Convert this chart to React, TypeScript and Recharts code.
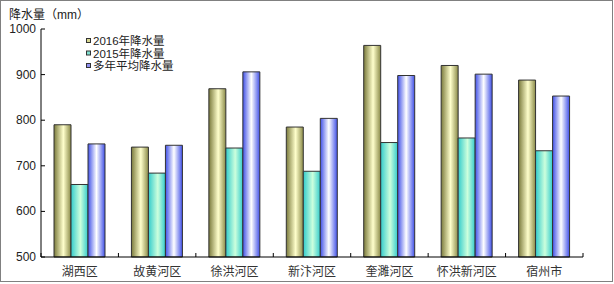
import { Bar, BarChart, XAxis, YAxis } from "recharts";

const regions = ["湖西区", "故黄河区", "徐洪河区", "新汴河区", "奎濉河区", "怀洪新河区", "宿州市"];
const rain2016 = [790, 741, 869, 785, 964, 920, 888];
const rain2015 = [659, 684, 739, 688, 751, 761, 733];
const rainAvg = [748, 745, 906, 804, 898, 901, 853];
const yTicks = [500, 600, 700, 800, 900, 1000];

const seriesNames = ["2016年降水量", "2015年降水量", "多年平均降水量"];
const legendColors = ["#d8d890", "#80e0d0", "#9090f0"];

const data = regions.map((name, i) => ({
  name,
  y2016: rain2016[i],
  y2015: rain2015[i],
  avg: rainAvg[i],
}));

const cjk = '"Liberation Sans", "Noto Sans CJK SC", sans-serif';
const band = 542 / regions.length;

function XTick(props: any) {
  const { x, y, payload, index } = props;
  const left = x - band / 2;
  return (
    <g>
      <line x1={left} x2={left} y1={y - 4} y2={y} stroke="#000" strokeWidth={1} />
      {index === regions.length - 1 && (
        <line x1={x + band / 2} x2={x + band / 2} y1={y - 4} y2={y} stroke="#000" strokeWidth={1} />
      )}
      <text x={x} y={y + 19} textAnchor="middle" fontSize={12} fill="#333" fontFamily={cjk}>
        {payload.value}
      </text>
    </g>
  );
}

function YTick(props: any) {
  const { x, y, payload } = props;
  return (
    <g>
      <line x1={x} x2={x + 4} y1={y} y2={y} stroke="#000" strokeWidth={1} />
      <text x={x - 5} y={y + 4} textAnchor="end" fontSize={12} fill="#222" fontFamily={cjk}>
        {payload.value}
      </text>
    </g>
  );
}

export default function App() {
  return (
    <div style={{ position: "absolute", left: 0, top: 0, width: 614, height: 284, background: "#fff" }}>
      <div
        style={{
          position: "absolute",
          left: 0,
          top: 0,
          width: 611,
          height: 280,
          border: "1px solid #808080",
        }}
      />
      <svg width={110} height={26} style={{ position: "absolute", left: 0, top: 0 }}>
        <text x={9} y={18.5} fontSize={12} fill="#222" fontFamily={cjk}>
          降水量（mm）
        </text>
      </svg>
      <BarChart
        width={614}
        height={284}
        data={data}
        margin={{ top: 29, right: 31, bottom: 0, left: 0 }}
        barGap={0}
        barSize={17}
      >
        <defs>
          <linearGradient id="gOlive" x1="0" y1="0" x2="1" y2="0">
            <stop offset="0%" stopColor="#7a7a3c" />
            <stop offset="55%" stopColor="#ffffcc" />
            <stop offset="100%" stopColor="#8a8a48" />
          </linearGradient>
          <linearGradient id="gCyan" x1="0" y1="0" x2="1" y2="0">
            <stop offset="0%" stopColor="#33cccc" />
            <stop offset="55%" stopColor="#ccffdd" />
            <stop offset="100%" stopColor="#33cccc" />
          </linearGradient>
          <linearGradient id="gBlue" x1="0" y1="0" x2="1" y2="0">
            <stop offset="0%" stopColor="#4050e8" />
            <stop offset="50%" stopColor="#ffffff" />
            <stop offset="100%" stopColor="#4050e8" />
          </linearGradient>
        </defs>
        <XAxis
          dataKey="name"
          height={27}
          tickSize={0}
          tickMargin={0}
          tickLine={false}
          stroke="#000"
          tick={<XTick />}
          interval={0}
        />
        <YAxis
          width={41}
          domain={[500, 1000]}
          ticks={yTicks}
          tickSize={0}
          tickMargin={0}
          tickLine={false}
          stroke="#000"
          tick={<YTick />}
          interval={0}
        />
        <Bar dataKey="y2016" name={seriesNames[0]} fill="url(#gOlive)" stroke="#333" strokeWidth={1} isAnimationActive={false} />
        <Bar dataKey="y2015" name={seriesNames[1]} fill="url(#gCyan)" stroke="#333" strokeWidth={1} isAnimationActive={false} />
        <Bar dataKey="avg" name={seriesNames[2]} fill="url(#gBlue)" stroke="#333" strokeWidth={1} isAnimationActive={false} />
      </BarChart>
      <svg width={120} height={44} style={{ position: "absolute", left: 80, top: 33 }}>
        {seriesNames.map((s, i) => (
          <g key={s}>
            <rect
              x={6.5}
              y={5.5 + i * 12.5}
              width={4}
              height={4}
              fill={legendColors[i]}
              stroke="#333"
              strokeWidth={1}
            />
            <text x={13} y={12 + i * 12.5} fontSize={11.5} fill="#222" fontFamily={cjk}>
              {s}
            </text>
          </g>
        ))}
      </svg>
    </div>
  );
}
